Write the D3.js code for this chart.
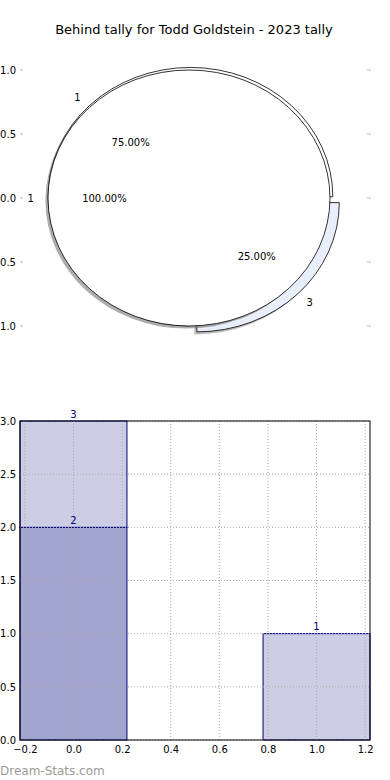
<!DOCTYPE html>
<html>
<head>
<meta charset="utf-8">
<script src="https://cdn.jsdelivr.net/npm/d3@7"></script>
<style>
    body { margin: 0; background: #fff; }
    svg { display: block; font-family: "DejaVu Sans", sans-serif; }
</style>
</head>
<body>
<div id="chart"></div>
<script>
const title = "Behind tally for Todd Goldstein - 2023 tally";

// pie: whole tally drawn over the split tally
const fullLabels = ["1"];
const fullValues = [100];
const pieLabels = ["1", "3"];
const pieValues = [75, 25];
const pieExplode = [0, 0.065];
const pieTicks = [1.0, 0.5, 0.0, -0.5, -1.0];

// bars (stacked at x = 0)
const barX = [0, 0, 1];
const barBase = [0, 2, 0];
const barTop = [2, 3, 1];
const barLabels = ["2", "3", "1"];
const barTone = ["dark", "light", "light"];
const barXTicks = [-0.2, 0.0, 0.2, 0.4, 0.6, 0.8, 1.0, 1.2];
const barYTicks = [0.0, 0.5, 1.0, 1.5, 2.0, 2.5, 3.0];

drawChart();

function drawChart() {
    const svg = d3.select("#chart").append("svg")
        .attr("width", 390)
        .attr("height", 780);

    svg.append("rect").attr("width", 390).attr("height", 780).attr("fill", "#fff");

    // 标题
    svg.append("text")
        .attr("x", 194)
        .attr("y", 34)
        .attr("text-anchor", "middle")
        .attr("font-size", 13)
        .attr("fill", "#000")
        .text(title);

    drawPie(svg);
    drawBars(svg);

    svg.append("text")
        .attr("x", 0)
        .attr("y", 775)
        .attr("font-size", 12)
        .attr("fill", "#9a9a9a")
        .text("Dream-Stats.com");
}

function drawPie(svg) {
    const px = d3.scaleLinear().domain([-1, 1]).range([48, 330]);
    const py = d3.scaleLinear().domain([-1, 1]).range([326, 70]);
    const rx = px(1) - px(0);
    const ry = py(0) - py(1);

    // ticks on both sides, no frame
    const fmt = d3.format(".1f");
    pieTicks.forEach(t => {
        svg.append("text")
            .attr("x", 16)
            .attr("y", py(t) + 3.5)
            .attr("text-anchor", "end")
            .attr("font-size", 10)
            .attr("fill", "#000")
            .text(fmt(t));
        [[20, 23], [367, 371]].forEach(s => {
            svg.append("line")
                .attr("x1", s[0]).attr("x2", s[1])
                .attr("y1", py(t)).attr("y2", py(t))
                .attr("stroke", "#bbb");
        });
    });

    const pie = d3.pie().sort(null)
        .startAngle(Math.PI / 2)
        .endAngle(Math.PI / 2 - 2 * Math.PI);
    const mid = d => (d.startAngle + d.endAngle) / 2;
    const at = (a, r) => [r * Math.sin(a), -r * Math.cos(a)];

    const split = pie(pieValues);
    const full = pie(fullValues);

    // split pie sits slightly off the whole one
    const g2 = svg.append("g")
        .attr("transform", `translate(${px(0.01)},${py(0.01)}) scale(${rx},${ry})`);
    const g1 = svg.append("g")
        .attr("transform", `translate(${px(0)},${py(0)}) scale(${rx},${ry})`);

    const arc2 = d3.arc().innerRadius(0).outerRadius(1.01);
    const arc1 = d3.arc().innerRadius(0).outerRadius(1);
    const shift = (d, i) => at(mid(d), pieExplode[i]);

    // shadows
    const sdx = 2.6 / rx, sdy = 2.6 / ry;
    g1.append("path")
        .attr("d", arc1(full[0]))
        .attr("transform", `translate(${-sdx},${sdy})`)
        .attr("fill", "#777")
        .attr("opacity", 0.6);
    g2.append("path")
        .attr("d", arc2(split[1]))
        .attr("transform", () => {
            const s = shift(split[1], 1);
            return `translate(${s[0] - sdx},${s[1] + sdy})`;
        })
        .attr("fill", "#777")
        .attr("opacity", 0.5);

    g2.selectAll(".wedge")
        .data(split)
        .enter().append("path")
        .attr("class", "wedge")
        .attr("d", arc2)
        .attr("transform", (d, i) => `translate(${shift(d, i)})`)
        .attr("fill", (d, i) => i === 1 ? "#e9eefb" : "#fff")
        .attr("stroke", "#000")
        .attr("stroke-width", 0.8)
        .attr("vector-effect", "non-scaling-stroke");

    g1.append("path")
        .attr("d", arc1(full[0]))
        .attr("fill", "#fff")
        .attr("stroke", "#000")
        .attr("stroke-width", 0.8)
        .attr("vector-effect", "non-scaling-stroke");

    // labels: names left/right aligned by side, percentages centred
    const label = (cx, cy, p, txt, side) => {
        let anchor = "middle";
        if (side) anchor = p[0] > 0.001 ? "start" : (p[0] < -0.001 ? "end" : "middle");
        svg.append("text")
            .attr("x", cx + p[0] * rx)
            .attr("y", cy + p[1] * ry + 3.5)
            .attr("text-anchor", anchor)
            .attr("font-size", 10)
            .attr("fill", "#000")
            .text(txt);
    };
    const total = d3.sum(pieValues);
    split.forEach((d, i) => {
        const s = shift(d, i);
        const cx = px(0.01) + s[0] * rx, cy = py(0.01) + s[1] * ry;
        label(cx, cy, at(mid(d), 1.1), pieLabels[i], true);
        label(cx, cy, at(mid(d), 0.6), (100 * d.value / total).toFixed(2) + "%", false);
    });
    full.forEach((d, i) => {
        label(px(0), py(0), at(mid(d), 1.1), fullLabels[i], true);
        label(px(0), py(0), at(mid(d), 0.6), (100 * d.value / d3.sum(fullValues)).toFixed(2) + "%", false);
    });
}

function drawBars(svg) {
    const x = d3.scaleLinear().domain([-0.22, 1.22]).range([20, 370]);
    const y = d3.scaleLinear().domain([0, 3]).range([740, 421]);
    const w = 0.44;
    const color = { dark: "#a2a4d0", light: "#cdcde5" };

    svg.selectAll(".bar")
        .data(barX)
        .enter().append("rect")
        .attr("class", "bar")
        .attr("x", d => x(d - w / 2))
        .attr("y", (d, i) => y(barTop[i]))
        .attr("width", x(w) - x(0))
        .attr("height", (d, i) => y(barBase[i]) - y(barTop[i]))
        .attr("fill", (d, i) => color[barTone[i]])
        .attr("stroke", "#000080")
        .attr("stroke-width", 1);

    // 网格
    barXTicks.forEach(t => {
        svg.append("line")
            .attr("x1", x(t)).attr("x2", x(t))
            .attr("y1", y(3)).attr("y2", y(0))
            .attr("stroke", "#aaa")
            .attr("stroke-dasharray", "1,2");
    });
    barYTicks.forEach(t => {
        svg.append("line")
            .attr("x1", x(-0.22)).attr("x2", x(1.22))
            .attr("y1", y(t)).attr("y2", y(t))
            .attr("stroke", "#aaa")
            .attr("stroke-dasharray", "1,2");
    });

    svg.append("rect")
        .attr("x", 20).attr("y", 421)
        .attr("width", 350).attr("height", 319)
        .attr("fill", "none")
        .attr("stroke", "#000")
        .attr("stroke-width", 1);

    const axisX = svg.append("g")
        .attr("transform", "translate(0,740)")
        .call(d3.axisBottom(x).tickValues(barXTicks).tickFormat(d3.format(".1f")).tickSize(0).tickPadding(6));
    axisX.select(".domain").remove();
    axisX.selectAll("text").attr("font-size", 10).attr("font-family", "DejaVu Sans").attr("fill", "#000");

    const axisY = svg.append("g")
        .attr("transform", "translate(20,0)")
        .call(d3.axisLeft(y).tickValues(barYTicks).tickFormat(d3.format(".1f")).tickSize(0).tickPadding(4));
    axisY.select(".domain").remove();
    axisY.selectAll("text").attr("font-size", 10).attr("font-family", "DejaVu Sans").attr("fill", "#000");

    svg.selectAll(".bar-label")
        .data(barX)
        .enter().append("text")
        .attr("class", "bar-label")
        .attr("x", d => x(d))
        .attr("y", (d, i) => y(barTop[i]) - 3.5)
        .attr("text-anchor", "middle")
        .attr("font-size", 10)
        .attr("fill", "#000080")
        .text((d, i) => barLabels[i]);
}
</script>
</body>
</html>
